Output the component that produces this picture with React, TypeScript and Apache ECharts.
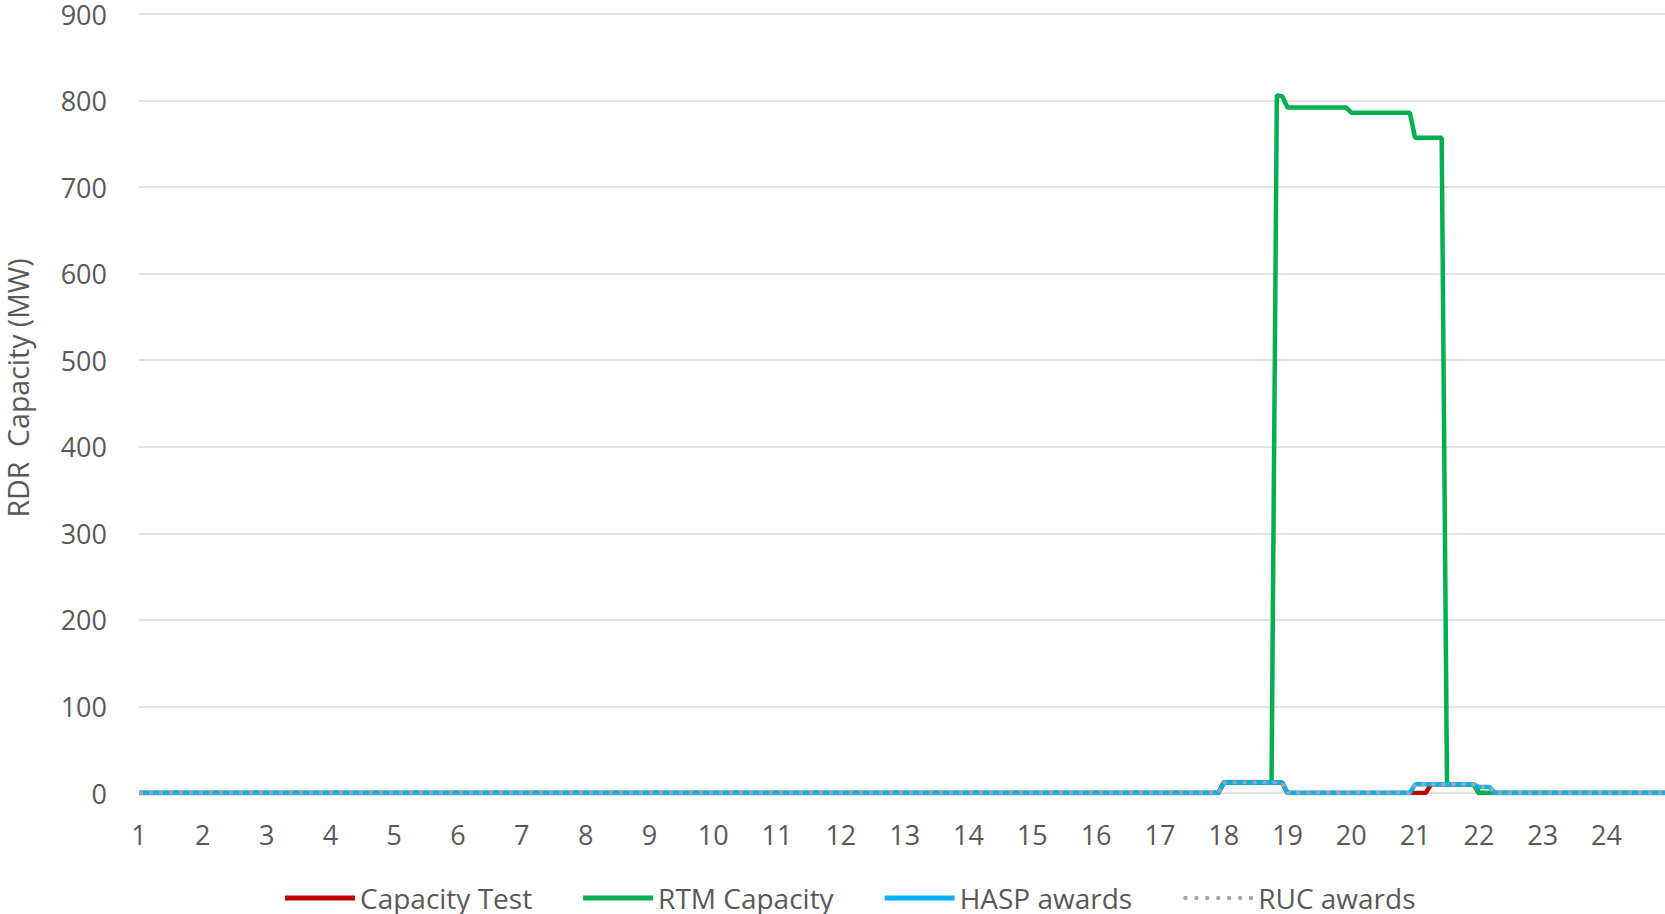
import React, { useEffect, useRef } from "react";
import * as echarts from "echarts";

// Hour tick labels (each hour holds 12 five-minute intervals)
const HOUR_LABELS = [
  "1", "2", "3", "4", "5", "6", "7", "8", "9", "10", "11", "12",
  "13", "14", "15", "16", "17", "18", "19", "20", "21", "22", "23", "24",
];
const INTERVALS_PER_HOUR = 12;
const categories: string[] = HOUR_LABELS.flatMap((h) =>
  Array.from({ length: INTERVALS_PER_HOUR }, (_, k) => `${h}:${String(k * 5).padStart(2, "0")}`)
);
const TOTAL = categories.length; // 288

// All series are 0 outside this window; values below start at interval index 200
const WINDOW_START = 200;

const capacityTestWindow = [
  0, 0, 0, 0,
  12, 12, 12, 12, 12, 12, 12, 12, 12, 12, 12, 12,
  0, 0, 0, 0, 0, 0, 0, 0, 0, 0, 0, 0, 0, 0, 0, 0, 0, 0, 0, 0, 0, 0, 0, 0, 0, 0, 0,
  10, 10, 10, 10, 10, 10, 10, 10, 10,
  0, 0, 0, 0, 0, 0, 0, 0,
];

const rtmCapacityWindow = [
  0, 0, 0, 0,
  12, 12, 12, 12, 12, 12, 12, 12, 12, 12,
  806, 805,
  792, 792, 792, 792, 792, 792, 792, 792, 792, 792, 792, 792,
  786, 786, 786, 786, 786, 786, 786, 786, 786, 786, 786, 786,
  757, 757, 757, 757, 757, 757,
  10, 10, 10, 10, 10, 10,
  0, 0, 0, 0, 0, 0, 0, 0,
];

const haspAwardsWindow = [
  0, 0, 0, 0,
  12, 12, 12, 12, 12, 12, 12, 12, 12, 12, 12, 12,
  0, 0, 0, 0, 0, 0, 0, 0, 0, 0, 0, 0, 0, 0, 0, 0, 0, 0, 0, 0, 0, 0, 0, 0,
  10, 10, 10, 10, 10, 10, 10, 10, 10, 10, 10, 10,
  7, 7, 7,
  0, 0, 0, 0, 0,
];

const rucAwardsWindow = [
  0, 0, 0, 0,
  12, 12, 12, 12, 12, 12, 12, 12, 12, 12, 12, 12,
  0, 0, 0, 0, 0, 0, 0, 0, 0, 0, 0, 0, 0, 0, 0, 0, 0, 0, 0, 0, 0, 0, 0, 0,
  10, 10, 10, 10, 10, 10, 10, 10, 10, 10, 10, 10,
  7, 7, 7,
  0, 0, 0, 0, 0,
];

function fullDay(windowValues: number[]): number[] {
  const out: number[] = new Array(TOTAL).fill(0);
  windowValues.forEach((v, k) => {
    out[WINDOW_START + k] = v;
  });
  return out;
}

const FONT = "'Open Sans', 'Noto Sans', sans-serif";
const TEXT_COLOR = "#595959";
const DOTS_ICON =
  "path://M2,0a2,2 0 1,1 0,4a2,2 0 1,1 0,-4z M12,0a2,2 0 1,1 0,4a2,2 0 1,1 0,-4z M22,0a2,2 0 1,1 0,4a2,2 0 1,1 0,-4z M32,0a2,2 0 1,1 0,4a2,2 0 1,1 0,-4z M42,0a2,2 0 1,1 0,4a2,2 0 1,1 0,-4z M52,0a2,2 0 1,1 0,4a2,2 0 1,1 0,-4z M62,0a2,2 0 1,1 0,4a2,2 0 1,1 0,-4z";

export default function App() {
  const ref = useRef<HTMLDivElement>(null);

  useEffect(() => {
    if (!ref.current) return;
    const chart = echarts.init(ref.current, undefined, { renderer: "svg" });
    chart.setOption({
      animation: false,
      backgroundColor: "#ffffff",
      textStyle: { fontFamily: FONT },
      grid: { left: 139, right: 0, top: 14, bottom: 121 },
      legend: {
        left: 280,
        top: 879,
        itemWidth: 70,
        itemHeight: 5,
        itemGap: 51,
        textStyle: { fontSize: 28, color: TEXT_COLOR, fontFamily: FONT, padding: [0, 0, 0, 0] },
        data: [
          { name: "Capacity Test", icon: "rect" },
          { name: "RTM Capacity", icon: "rect" },
          { name: "HASP awards", icon: "rect" },
          { name: "RUC awards", icon: DOTS_ICON },
        ],
      },
      xAxis: {
        type: "category",
        data: categories,
        boundaryGap: false,
        axisLine: { show: false },
        axisTick: { show: false },
        splitLine: { show: false },
        axisLabel: {
          interval: (index: number) => index % INTERVALS_PER_HOUR === 0,
          formatter: (v: string) => v.split(":")[0],
          fontSize: 27,
          color: TEXT_COLOR,
          fontFamily: FONT,
          margin: 28,
        },
      },
      yAxis: {
        type: "value",
        min: 0,
        max: 900,
        interval: 100,
        axisLine: { show: false },
        axisTick: { show: false },
        splitLine: { lineStyle: { color: "#d9d9d9", width: 1.5 } },
        axisLabel: { fontSize: 27, color: TEXT_COLOR, fontFamily: FONT, margin: 32 },
      },
      graphic: [
        {
          type: "text",
          x: 18,
          y: 388,
          rotation: Math.PI / 2,
          style: {
            text: "RDR  Capacity (MW)",
            fontSize: 28.5,
            fontFamily: FONT,
            fill: TEXT_COLOR,
            textAlign: "center",
            textVerticalAlign: "middle",
          },
        },
      ],
      series: [
        {
          name: "Capacity Test",
          type: "line",
          data: fullDay(capacityTestWindow),
          showSymbol: false,
          symbol: "none",
          z: 2,
          itemStyle: { color: "#c00000" },
          lineStyle: { color: "#c00000", width: 4.5 },
        },
        {
          name: "RTM Capacity",
          type: "line",
          data: fullDay(rtmCapacityWindow),
          showSymbol: false,
          symbol: "none",
          z: 3,
          itemStyle: { color: "#00b050" },
          lineStyle: { color: "#00b050", width: 4.5 },
        },
        {
          name: "HASP awards",
          type: "line",
          data: fullDay(haspAwardsWindow),
          showSymbol: false,
          symbol: "none",
          z: 4,
          itemStyle: { color: "#00b0f0" },
          lineStyle: { color: "#00b0f0", width: 4.5 },
        },
        {
          name: "RUC awards",
          type: "line",
          data: fullDay(rucAwardsWindow),
          showSymbol: false,
          symbol: "none",
          z: 5,
          itemStyle: { color: "#a6a6a6" },
          lineStyle: { color: "#a6a6a6", width: 3.5, type: [4, 6] },
        },
      ],
    });
    return () => chart.dispose();
  }, []);

  return (
    <div
      ref={ref}
      style={{ position: "fixed", left: 0, top: 0, width: 1665, height: 914, background: "#fff" }}
    />
  );
}
